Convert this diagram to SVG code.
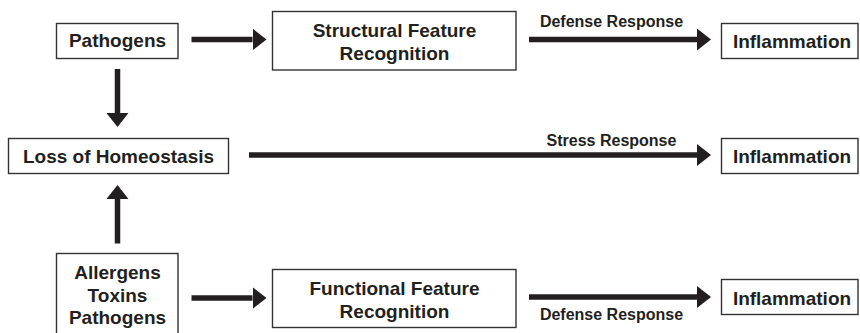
<svg xmlns="http://www.w3.org/2000/svg" width="860" height="333" viewBox="0 0 860 333">
<style>
.box{fill:#fff;stroke:#333;stroke-width:1.4}
.t{font-family:"Liberation Sans",Arial,sans-serif;font-weight:bold;font-size:19px;fill:#231f20;text-anchor:middle}
.lbl{font-family:"Liberation Sans",Arial,sans-serif;font-weight:bold;font-size:16px;fill:#231f20;text-anchor:middle}
.arr{stroke:#231f20;stroke-width:5.5;fill:none;marker-end:url(#ah)}
</style>
<defs>
<marker id="ah" markerUnits="userSpaceOnUse" markerWidth="14" markerHeight="22" refX="0" refY="11" orient="auto" viewBox="0 0 14 22">
<path d="M0,0 L14,11 L0,22 z" fill="#231f20"/>
</marker>
</defs>
<rect width="860" height="333" fill="#fff"/>
<g id="connectors">
<line class="arr" x1="191.5" y1="39.5" x2="252.5" y2="39.5"/>
<line class="arr" x1="529" y1="39.5" x2="697" y2="39.5"/>
<text class="lbl" x="611.5" y="26.7">Defense Response</text>
<line class="arr" x1="117.5" y1="69" x2="117.5" y2="113"/>
<line class="arr" x1="249" y1="155" x2="697" y2="155"/>
<text class="lbl" x="611.5" y="145.5">Stress Response</text>
<line class="arr" x1="117.5" y1="243.5" x2="117.5" y2="199"/>
<line class="arr" x1="191.5" y1="298" x2="252.5" y2="298"/>
<line class="arr" x1="529" y1="297" x2="697" y2="297"/>
<text class="lbl" x="611.5" y="320">Defense Response</text>
</g>
<g id="pathogens">
<rect class="box" x="56.5" y="23.5" width="121.5" height="35"/>
<text class="t" x="117.5" y="47.3">Pathogens</text>
</g>
<g id="structural">
<rect class="box" x="272.5" y="11.5" width="243.5" height="58.5"/>
<text class="t" x="394.5" y="37">Structural Feature</text>
<text class="t" x="394.5" y="59.5">Recognition</text>
</g>
<g id="inflammation1">
<rect class="box" x="721.5" y="23.5" width="136.5" height="35"/>
<text class="t" x="792" y="48.3">Inflammation</text>
</g>
<g id="loss">
<rect class="box" x="8.5" y="138.5" width="220" height="35"/>
<text class="t" x="118.5" y="163">Loss of Homeostasis</text>
</g>
<g id="inflammation2">
<rect class="box" x="721.5" y="138.5" width="136.5" height="35"/>
<text class="t" x="792" y="163.3">Inflammation</text>
</g>
<g id="allergens">
<rect class="box" x="56.5" y="253.5" width="121.5" height="90"/>
<text class="t" x="117.5" y="278.5">Allergens</text>
<text class="t" x="117.5" y="301.5">Toxins</text>
<text class="t" x="117.5" y="324">Pathogens</text>
</g>
<g id="functional">
<rect class="box" x="272.5" y="269.5" width="243.5" height="58"/>
<text class="t" x="394.5" y="295">Functional Feature</text>
<text class="t" x="394.5" y="318">Recognition</text>
</g>
<g id="inflammation3">
<rect class="box" x="721.5" y="279.5" width="136.5" height="35"/>
<text class="t" x="792" y="304.5">Inflammation</text>
</g>
</svg>
